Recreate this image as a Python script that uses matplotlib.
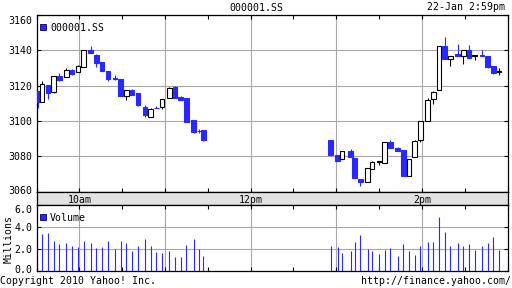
import matplotlib
matplotlib.use('Agg')
import matplotlib.pyplot as plt
from matplotlib.transforms import ScaledTranslation

# ---------------- data ----------------
times = ["09:31", "09:34", "09:38", "09:42", "09:46", "09:51", "09:55", "09:59",
         "10:03", "10:08", "10:12", "10:16", "10:20", "10:25", "10:29", "10:33",
         "10:37", "10:41", "10:46", "10:50", "10:54", "10:58", "11:03", "11:07",
         "11:11", "11:15", "11:20", "11:24", "11:27",
         "12:56", "13:01", "13:04", "13:10", "13:13", "13:17", "13:22", "13:25",
         "13:30", "13:34", "13:38", "13:43", "13:47", "13:51", "13:55", "13:59",
         "14:04", "14:08", "14:12", "14:16", "14:20", "14:25", "14:29", "14:33",
         "14:37", "14:42", "14:46", "14:50", "14:54"]
opens = [3117.0, 3110.6, 3120.4, 3116.3, 3125.5, 3124.7, 3128.8, 3127.5,
         3130.7, 3140.4, 3137.6, 3133.3, 3128.3, 3124.3, 3123.8, 3113.9,
         3117.3, 3116.1, 3108.2, 3102.4, 3107.6, 3108.0, 3113.0, 3119.3,
         3113.4, 3113.2, 3100.3, 3094.5, 3094.7,
         3089.2, 3080.9, 3078.4, 3083.3, 3079.1, 3067.4, 3065.5, 3072.7,
         3076.7, 3076.5, 3088.4, 3084.5, 3083.6, 3068.7, 3079.5, 3089.5,
         3100.0, 3112.5, 3117.4, 3142.2, 3135.3, 3137.8, 3137.0, 3140.4,
         3137.0, 3137.5, 3136.6, 3131.1, 3128.0]
highs = [3117.0, 3122.7, 3120.4, 3125.5, 3126.9, 3129.9, 3129.6, 3131.5,
         3140.4, 3142.2, 3137.8, 3133.3, 3128.3, 3126.3, 3123.8, 3117.7,
         3118.4, 3116.1, 3109.0, 3107.4, 3108.7, 3112.5, 3119.5, 3119.6,
         3114.3, 3113.2, 3100.3, 3095.3, 3094.7,
         3089.2, 3080.9, 3082.8, 3084.1, 3079.1, 3067.4, 3073.3, 3077.6,
         3077.3, 3088.4, 3089.3, 3085.3, 3083.6, 3078.5, 3089.2, 3100.0,
         3113.0, 3116.8, 3142.7, 3147.4, 3137.0, 3143.4, 3140.4, 3142.8,
         3137.6, 3140.0, 3136.6, 3131.1, 3129.8]
lows = [3107.6, 3110.6, 3112.5, 3116.0, 3122.4, 3124.7, 3125.9, 3127.5,
        3130.3, 3138.5, 3130.7, 3128.4, 3122.9, 3123.2, 3113.9, 3111.7,
        3114.5, 3108.3, 3102.4, 3102.4, 3107.3, 3107.0, 3113.0, 3113.1,
        3111.8, 3099.4, 3093.5, 3093.1, 3088.8,
        3080.9, 3077.6, 3078.4, 3079.4, 3067.6, 3063.2, 3065.5, 3072.7,
        3074.9, 3076.0, 3085.0, 3083.2, 3068.7, 3068.7, 3079.5, 3088.2,
        3100.0, 3109.7, 3117.4, 3135.1, 3131.2, 3136.9, 3132.3, 3135.7,
        3134.7, 3137.0, 3130.0, 3126.6, 3126.3]
closes = [3110.6, 3121.0, 3115.8, 3125.2, 3123.2, 3128.7, 3126.6, 3131.1,
          3140.4, 3138.5, 3132.6, 3128.4, 3123.6, 3124.0, 3113.9, 3117.7,
          3114.5, 3108.9, 3103.3, 3106.9, 3107.3, 3112.5, 3118.6, 3113.1,
          3111.8, 3099.4, 3093.9, 3094.1, 3089.4,
          3080.9, 3077.6, 3082.8, 3079.4, 3067.6, 3065.5, 3073.3, 3076.9,
          3077.3, 3088.4, 3085.0, 3083.2, 3068.7, 3078.5, 3088.6, 3100.0,
          3111.9, 3116.4, 3142.7, 3135.1, 3137.0, 3136.9, 3140.4, 3135.7,
          3137.6, 3137.0, 3130.7, 3127.3, 3128.5]
volumes = [0.0, 3.37, 3.46, 2.75, 2.45, 2.54, 2.27, 2.17,
           2.75, 2.54, 2.08, 2.17, 2.75, 1.99, 2.75, 2.54,
           1.81, 2.27, 2.91, 2.27, 1.72, 1.62, 1.81, 1.26,
           1.26, 2.36, 2.91, 1.99, 1.35,
           2.27, 2.17, 1.62, 1.81, 2.63, 3.27, 1.99, 1.81,
           1.53, 1.90, 2.08, 1.35, 2.45, 1.81, 1.44, 2.27,
           2.63, 2.63, 4.93, 3.55, 2.27, 2.54, 2.27, 2.45,
           1.90, 2.27, 2.54, 3.09, 1.90]

price_ticks = [3060, 3080, 3100, 3120, 3140, 3160]
vol_ticks = [0.0, 2.0, 4.0, 6.0]
vol_tick_labels = ["0.0", "2.0", "4.0", "6.0"]
time_label_pos = ["10:00", "12:00", "14:00"]
time_labels = ["10am", "12pm", "2pm"]
grid_hours = ["10:00", "11:00", "12:00", "13:00", "14:00"]
half_hours = ["09:30", "10:30", "11:30", "12:30", "13:30", "14:30", "15:00"]
session = ["09:30", "15:00"]

symbol = "000001.SS"
stamp = "22-Jan 2:59pm"

# ---------------- style ----------------
BLUE = '#2828ff'
GRID = '#a8a8a8'
BAND = '#e2e2e2'
plt.rcParams['font.family'] = ['DejaVu Sans Mono', 'DejaVu Sans']
plt.rcParams['font.size'] = 7.1


def tmin(s):
    h, m = s.split(':')
    return int(h) * 60 + int(m)


x = [tmin(t) for t in times]
xlim = (tmin(session[0]), tmin(session[1]))

W, H = 512, 288
fig = plt.figure(figsize=(W / 100, H / 100), dpi=100)
L, R = 36.5, 507.5
axp = fig.add_axes([L / W, (H - 191.7) / H, (R - L) / W, 176.7 / H])
axb = fig.add_axes([L / W, (H - 205) / H, (R - L) / W, 13.3 / H])
axv = fig.add_axes([L / W, (H - 270.7) / H, (R - L) / W, 65.7 / H])

for ax in (axp, axb, axv):
    ax.set_xlim(*xlim)
    for sp in ax.spines.values():
        sp.set_linewidth(0.9)
        sp.set_color('black')

up_shift = ScaledTranslation(0, 1.7 / 100, fig.dpi_scale_trans)
down_shift = ScaledTranslation(0, -1.5 / 100, fig.dpi_scale_trans)

# ---- price panel ----
for xi, o, h, l, c in zip(x, opens, highs, lows, closes):
    up = c >= o
    col = 'black' if up else BLUE
    axp.vlines(xi, l, h, color=col, lw=0.8, zorder=3)
    bot = min(o, c)
    ht = max(abs(c - o), 0.35)
    axp.bar(xi, ht, bottom=bot, width=3.2,
            facecolor='white' if up else BLUE,
            edgecolor=col, linewidth=0.8, zorder=4)

axp.set_ylim(price_ticks[0], price_ticks[-1])
axp.set_yticks(price_ticks)
axp.set_yticklabels([str(v) for v in price_ticks])
axp.set_xticks([tmin(t) for t in grid_hours])
axp.set_xticks([tmin(t) for t in half_hours], minor=True)
axp.set_axisbelow(True)
axp.grid(True, which='major', color=GRID, lw=0.8)
axp.tick_params(axis='both', which='both', direction='in', length=3, width=0.8,
                top=True, bottom=True, left=True, right=True,
                labelbottom=False, pad=2.8)
pt = axp.yaxis.get_major_ticks()
pt[-1].label1.set_transform(pt[-1].label1.get_transform() + down_shift)
pt[-1].label1.set_verticalalignment('top')
pt[0].label1.set_transform(pt[0].label1.get_transform() + up_shift)
axp.plot([0.0135], [0.932], marker='s', ms=4.3, mfc=BLUE, mec='#000066', mew=0.6,
         transform=axp.transAxes, clip_on=False)
axp.text(0.0285, 0.924, symbol, transform=axp.transAxes, ha='left', va='center')

# ---- band ----
axb.set_facecolor(BAND)
axb.set_xticks([])
axb.set_yticks([])
for t, lab in zip(time_label_pos, time_labels):
    axb.text(tmin(t), 0.4, lab, transform=axb.get_xaxis_transform(),
             ha='center', va='center')

# ---- volume panel ----
axv.vlines(x, 0, volumes, color=BLUE, lw=0.8, zorder=3)
axv.set_ylim(vol_ticks[0], vol_ticks[-1])
axv.set_yticks(vol_ticks)
axv.set_yticklabels(vol_tick_labels)
axv.set_xticks([tmin(t) for t in grid_hours])
axv.set_xticks([tmin(t) for t in half_hours], minor=True)
axv.set_axisbelow(True)
axv.grid(True, which='major', color=GRID, lw=0.8)
axv.tick_params(axis='both', which='both', direction='in', length=3, width=0.8,
                top=True, bottom=True, left=True, right=True,
                labelbottom=False, pad=2.8)
vt = axv.yaxis.get_major_ticks()
vt[-1].label1.set_verticalalignment('top')
vt[0].label1.set_transform(vt[0].label1.get_transform() + up_shift)
axv.plot([0.0135], [0.817], marker='s', ms=4.3, mfc=BLUE, mec='#000066', mew=0.6,
         transform=axv.transAxes, clip_on=False)
axv.text(0.0285, 0.795, 'Volume', transform=axv.transAxes, ha='left', va='center')

# ---- figure texts ----
fig.text(8.5 / W, 1 - 239 / H, 'Millions', rotation=90, ha='center', va='center')
fig.text(0.5, 1 - 8 / H, symbol, ha='center', va='center')
fig.text(505 / W, 1 - 7.5 / H, stamp, ha='right', va='center')
fig.text(0.5 / W, 1 - 281 / H, 'Copyright 2010 Yahoo! Inc.', ha='left', va='center')
fig.text(511 / W, 1 - 281 / H, 'http://finance.yahoo.com/', ha='right', va='center')

fig.savefig('out.png', dpi=100)
